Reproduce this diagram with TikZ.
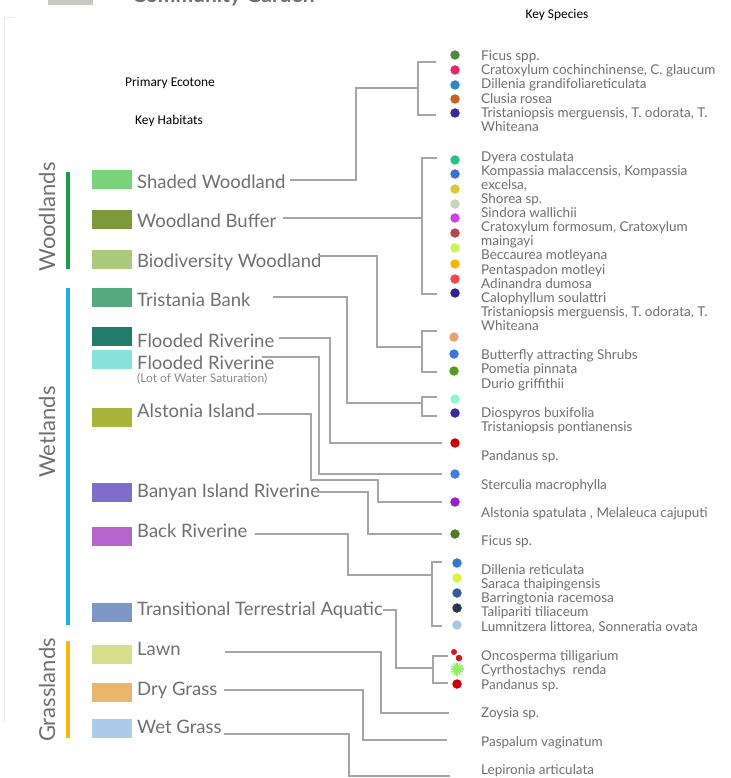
\documentclass[tikz,border=0pt]{standalone}
\usepackage{fontspec}
\setmainfont{Lato}
\newfontfamily\calib{Carlito}
\definecolor{linegray}{HTML}{A5A5A5}
\definecolor{textgray}{HTML}{6F6F6F}
\definecolor{woodgreen}{HTML}{1C9C46}
\definecolor{wetblue}{HTML}{1DAEE8}
\definecolor{grassyellow}{HTML}{F4B80F}
\definecolor{titlegray}{HTML}{C9C9C1}
\definecolor{framegray}{HTML}{EBEBEB}
\definecolor{palmred}{HTML}{D01818}
\definecolor{palmgreen}{HTML}{8EF060}
\begin{document}
\begin{tikzpicture}[x=1pt,y=-1pt,
	link/.style={draw=linegray,line width=1.4pt},
	swatch/.style={anchor=north west,minimum width=40pt,minimum height=18.5pt,inner sep=0pt},
	habitat/.style={anchor=base west,inner sep=0pt,text=textgray,font=\fontsize{18.5}{20}\selectfont},
	species/.style={anchor=base west,inner sep=0pt,text=textgray,font=\fontsize{13.5}{14}\selectfont},
	zone/.style={rotate=90,inner sep=0pt,text=textgray,font=\fontsize{22}{24}\selectfont},
	heading/.style={inner sep=0pt,font=\calib\fontsize{13.4}{15}\selectfont},
	dot/.style={circle,minimum size=9.5pt,inner sep=0pt}]
\useasboundingbox (0,0) rectangle (730,778);
\clip (0,0) rectangle (730,778);
\fill[titlegray] (48,-5) rectangle (93,5);
\node[anchor=base west,inner sep=0pt,text=textgray,font=\bfseries\fontsize{21}{23}\selectfont] (title) at (132,3) {Community Garden};
\draw[framegray] (14,17) -- (4,17) -- (4,722);
\node[heading] (eco) at (170,83) {Primary Ecotone};
\node[heading] (hab) at (169,121) {Key Habitats};
\node[heading] (spc) at (557,15) {Key Species};
\draw[line width=4.5pt,woodgreen] (68,172) -- (68,269);
\draw[line width=4.5pt,wetblue] (68,288) -- (68,625);
\draw[line width=4.5pt,grassyellow] (68,641) -- (68,738);
\node[zone] (wood) at (47,217) {Woodlands};
\node[zone] (wet) at (47,432) {Wetlands};
\node[zone] (grass) at (47,690) {Grasslands};
\foreach \n/\ya/\yb/\h/\lab in {
	1/170/188/77D47A/{Shaded Woodland},
	2/210/227/7C9A3B/{Woodland Buffer},
	3/250/267/ABCB7C/{Biodiversity Woodland},
	4/288/306/55A97F/{Tristania Bank},
	5/327/347/217C6B/{Flooded Riverine},
	6/350/369/88E2DB/{Flooded Riverine},
	7/408/417/A8B33C/{Alstonia Island},
	8/483/497/7F6DCB/{Banyan Island Riverine},
	9/527/537/B566CC/{Back Riverine},
	10/603/615/7E95C8/{Transitional Terrestrial Aquatic},
	11/645/655/D7DF8F/{Lawn},
	12/683/695/EBB56B/{Dry Grass},
	13/719/733/ACCAEA/{Wet Grass}}{
	\definecolor{swatchfill}{HTML}{\h}
	\node[swatch,fill=swatchfill] (q\n) at (92,\ya) {};
	\node[habitat] (h\n) at (137,\yb) {\lab};
}
\node[anchor=base west,inner sep=0pt,text=textgray!80,font=\fontsize{12}{13}\selectfont] (sat) at (137,382.5) {(Lot of Water Saturation)};
\foreach \y/\t in {56/{Ficus spp.},70/{Cratoxylum cochinchinense, C. glaucum},84/{Dillenia grandifoliareticulata},
	99/{Clusia rosea},113/{Tristaniopsis merguensis, T. odorata, T.},127/{Whiteana},
	157/{Dyera costulata},171/{Kompassia malaccensis, Kompassia},185/{excelsa,},199/{Shorea sp.},
	213/{Sindora wallichii},227/{Cratoxylum formosum, Cratoxylum},241/{maingayi},255/{Beccaurea motleyana},
	270/{Pentaspadon motleyi},284/{Adinandra dumosa},298/{Calophyllum soulattri},
	312/{Tristaniopsis merguensis, T. odorata, T.},326/{Whiteana},
	355/{Butterfly attracting Shrubs},369/{Pometia pinnata},384/{Durio griffithii},
	413/{Diospyros buxifolia},427/{Tristaniopsis pontianensis},456/{Pandanus sp.},
	485/{Sterculia macrophylla},513/{Alstonia spatulata , Melaleuca cajuputi},541/{Ficus sp.},
	570/{Dillenia reticulata},584/{Saraca thaipingensis},598/{Barringtonia racemosa},
	612/{Talipariti tiliaceum},627/{Lumnitzera littorea, Sonneratia ovata},
	656/{Oncosperma tilligarium},670/{Cyrthostachys\ \ renda},685/{Pandanus sp.},
	713/{Zoysia sp.},742/{Paspalum vaginatum},770/{Lepironia articulata}}
	\node[species] (t\y) at (481,\y+4.5) {\t};
\foreach \x/\y/\h in {455/55/4F8A3C,455/70/E8246C,455/85/2F86C6,455/99/C4621E,455/113/3B2A9A,
	455/160/26C283,455/174/3C6FD8,455/189/D8C83A,455/204/C2D6B5,455/218/D040E8,
	455/233/B44A4A,455/248/C8F55A,455/264/FFB400,455/279/F04848,455/293/2E2296,
	454/337/E3A47A,454/354/3D78DE,454/371/5A9A1C,455/399/8FF5D0,455/413/3B2A9A,
	455/443/CC0000,455/474/3F7FE0,455/502/9A1EC8,455/534/4F7A30,
	457/563/2F7BC6,457/578/D8F540,457/593/335C9A,457/608/2A3450,457/625/A8C8E8,457/684/CC0000}{
	\definecolor{dotfill}{HTML}{\h}
	\node[dot,fill=dotfill] (d\y) at (\x,\y) {};
}
\fill[palmred] (454,652) circle (3) (459,658) circle (3.3);
\path (457,669) coordinate (star);
\foreach \a in {0,30,...,330} \draw[palmgreen,line width=1.6pt] (star) -- ++(\a:6.5);
\path
(290,180) coordinate (s1) (356,88) coordinate (c1) (418,88) coordinate (k1)
(436,62) coordinate (u1) (436,115) coordinate (v1)
(283,218) coordinate (s2) (422,218) coordinate (k2)
(437,158) coordinate (u2) (437,294) coordinate (v2)
(318,256) coordinate (s3) (377,347) coordinate (c3) (422,347) coordinate (k3)
(437,331) coordinate (u3) (437,372) coordinate (v3)
(273,297) coordinate (s4) (347,403) coordinate (c4) (422,403) coordinate (k4)
(437,397) coordinate (u4) (437,416) coordinate (v4)
(279,338) coordinate (s5) (330,443) coordinate (c5) (442,443) coordinate (e5)
(262,357) coordinate (s6) (319,474) coordinate (c6) (442,474) coordinate (e6)
(257,414) coordinate (s7) (311,480) coordinate (c7) (378,502) coordinate (b7) (442,502) coordinate (e7)
(317,492) coordinate (s8) (368,534) coordinate (c8) (442,534) coordinate (e8)
(255,534) coordinate (s9) (348,575) coordinate (c9) (432,575) coordinate (k9)
(442,562) coordinate (u9) (442,626) coordinate (v9)
(383,610) coordinate (s10) (396,668) coordinate (c10) (433,668) coordinate (k10)
(448,656) coordinate (u10) (448,683) coordinate (v10)
(225,652) coordinate (s11) (381,713) coordinate (c11) (449,713) coordinate (e11)
(224,690) coordinate (s12) (363,740) coordinate (c12) (447,740) coordinate (e12)
(224,734) coordinate (s13) (349,776) coordinate (c13) (450,776) coordinate (e13)
;
\draw[link] (s1) -| (c1) -- (k1);
\draw[link] (s2) -- (k2);
\draw[link] (s3) -| (c3) -- (k3);
\draw[link] (s4) -| (c4) -- (k4);
\draw[link] (s5) -| (c5) -- (e5);
\draw[link] (s6) -| (c6) -- (e6);
\draw[link] (s7) -| (c7) -| (b7) -- (e7);
\draw[link] (s8) -| (c8) -- (e8);
\draw[link] (s9) -| (c9) -- (k9);
\draw[link] (s10) -| (c10) -- (k10);
\draw[link] (s11) -| (c11) -- (e11);
\draw[link] (s12) -| (c12) -- (e12);
\draw[link] (s13) -| (c13) -- (e13);
\foreach \k in {1,2,3,4,9,10} \draw[link] (u\k) -| (k\k) |- (v\k);
\end{tikzpicture}
\end{document}
